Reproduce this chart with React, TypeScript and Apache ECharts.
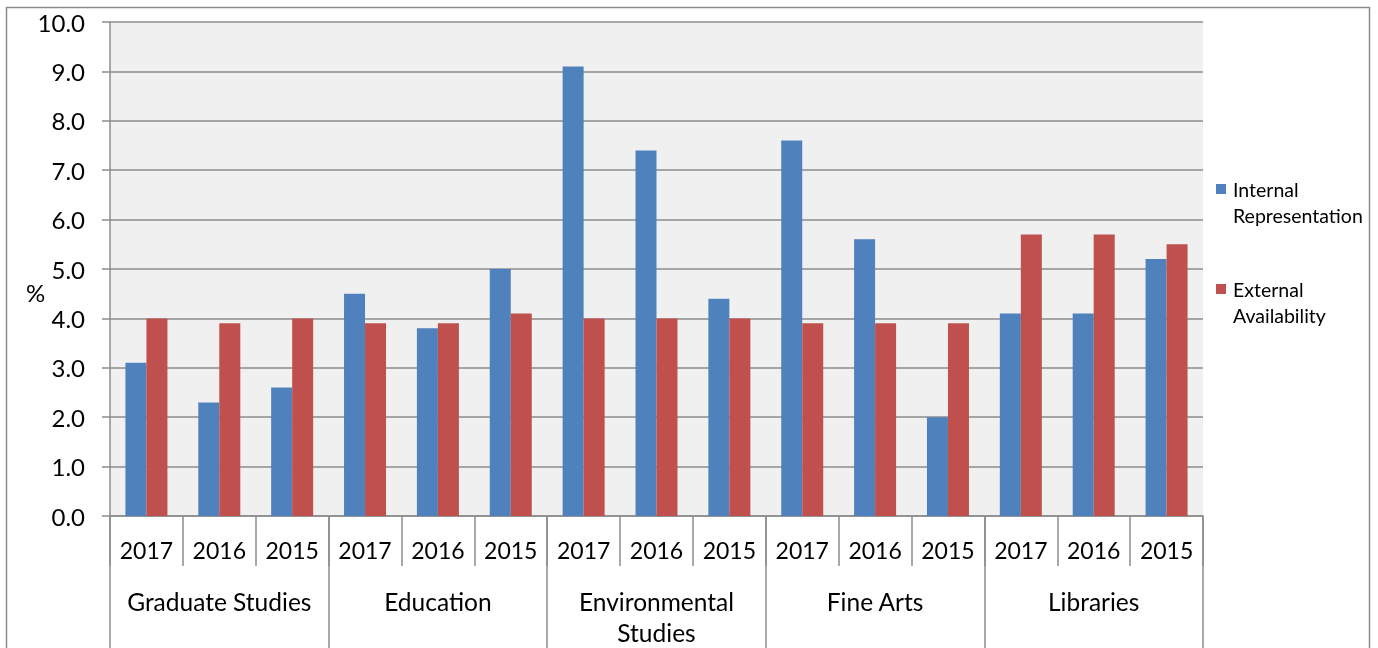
import React, { useEffect, useRef } from "react";
import * as echarts from "echarts";

const years = ["2017", "2016", "2015", "2017", "2016", "2015", "2017", "2016", "2015", "2017", "2016", "2015", "2017", "2016", "2015"];
const groups = ["Graduate Studies", "Education", "Environmental Studies", "Fine Arts", "Libraries"];
const internalRep = [3.1, 2.3, 2.6, 4.5, 3.8, 5.0, 9.1, 7.4, 4.4, 7.6, 5.6, 2.0, 4.1, 4.1, 5.2];
const externalAvail = [4.0, 3.9, 4.0, 3.9, 3.9, 4.1, 4.0, 4.0, 4.0, 3.9, 3.9, 3.9, 5.7, 5.7, 5.5];
const seriesNames = ["Internal Representation", "External Availability"];
const yAxisTitle = "%";
const colors = ["#4f81bd", "#c0504d"];

const FONT = "Lato";
const GRAY = "#8c8c8c";

export default function App() {
  const ref = useRef<HTMLDivElement>(null);
  useEffect(() => {
    const chart = echarts.init(ref.current!, undefined, { renderer: "svg" });
    const legendY = [189, 289];
    const legendGraphics: any[] = [];
    seriesNames.forEach((n, i) => {
      const parts = n.split(" ");
      legendGraphics.push({
        type: "rect",
        shape: { x: 1216, y: legendY[i] - 5, width: 10, height: 10 },
        style: { fill: colors[i] },
      });
      legendGraphics.push({
        type: "text",
        x: 1233,
        y: legendY[i] - 13,
        style: {
          text: parts.join("\n"),
          font: `19.5px ${FONT}`,
          lineHeight: 26,
          fill: "#000",
          textVerticalAlign: "top",
        },
      });
    });
    chart.setOption({
      animation: false,
      textStyle: { fontFamily: FONT },
      grid: { left: 110, top: 22, width: 1093, height: 496, show: true, backgroundColor: "#f0f0f0", borderWidth: 0 },
      graphic: [
        {
          type: "rect",
          shape: { x: 6.5, y: 7.5, width: 1363, height: 700 },
          style: { fill: "none", stroke: GRAY, lineWidth: 1.5 },
          z: 100,
        },
        {
          type: "text",
          x: 35.5,
          y: 292,
          style: {
            text: yAxisTitle,
            font: `24px ${FONT}`,
            fill: "#000",
            textAlign: "center",
            textVerticalAlign: "middle",
          },
        },
        ...legendGraphics,
      ],
      xAxis: [
        {
          type: "category",
          position: "bottom",
          data: years,
          axisLine: { show: true, lineStyle: { color: GRAY, width: 1.5 } },
          axisTick: { show: true, interval: 0, length: 50, lineStyle: { color: GRAY, width: 1.5 } },
          axisLabel: { interval: 0, fontSize: 23, color: "#000", margin: 22, fontFamily: FONT },
          splitLine: { show: false },
        },
        {
          type: "category",
          position: "bottom",
          data: groups,
          axisLine: { show: false },
          axisTick: { show: true, interval: 0, length: 135, lineStyle: { color: GRAY, width: 1.5 } },
          axisLabel: {
            interval: 0,
            fontSize: 24.5,
            lineHeight: 31,
            color: "#000",
            margin: 70,
            fontFamily: FONT,
            formatter: (v: string) => (v.length > 18 ? v.replace(" ", "\n") : v),
          },
          splitLine: { show: false },
        },
      ],
      yAxis: {
        type: "value",
        min: 0,
        max: 10,
        interval: 1,
        axisLine: { show: true, lineStyle: { color: GRAY, width: 1.5 } },
        axisTick: { show: true, length: 8, lineStyle: { color: GRAY, width: 1.5 } },
        axisLabel: { fontSize: 24, color: "#000", margin: 25, fontFamily: FONT, formatter: (v: number) => v.toFixed(1) },
        splitLine: { show: true, lineStyle: { color: GRAY, width: 1.5 } },
      },
      series: [
        { name: seriesNames[0], type: "bar", data: internalRep, barWidth: 21, barGap: "0%", itemStyle: { color: colors[0] }, xAxisIndex: 0 },
        { name: seriesNames[1], type: "bar", data: externalAvail, barWidth: 21, barGap: "0%", itemStyle: { color: colors[1] }, xAxisIndex: 0 },
      ],
    });
    return () => chart.dispose();
  }, []);
  return <div ref={ref} style={{ position: "fixed", left: 0, top: 0, width: 1378, height: 648 }} />;
}
